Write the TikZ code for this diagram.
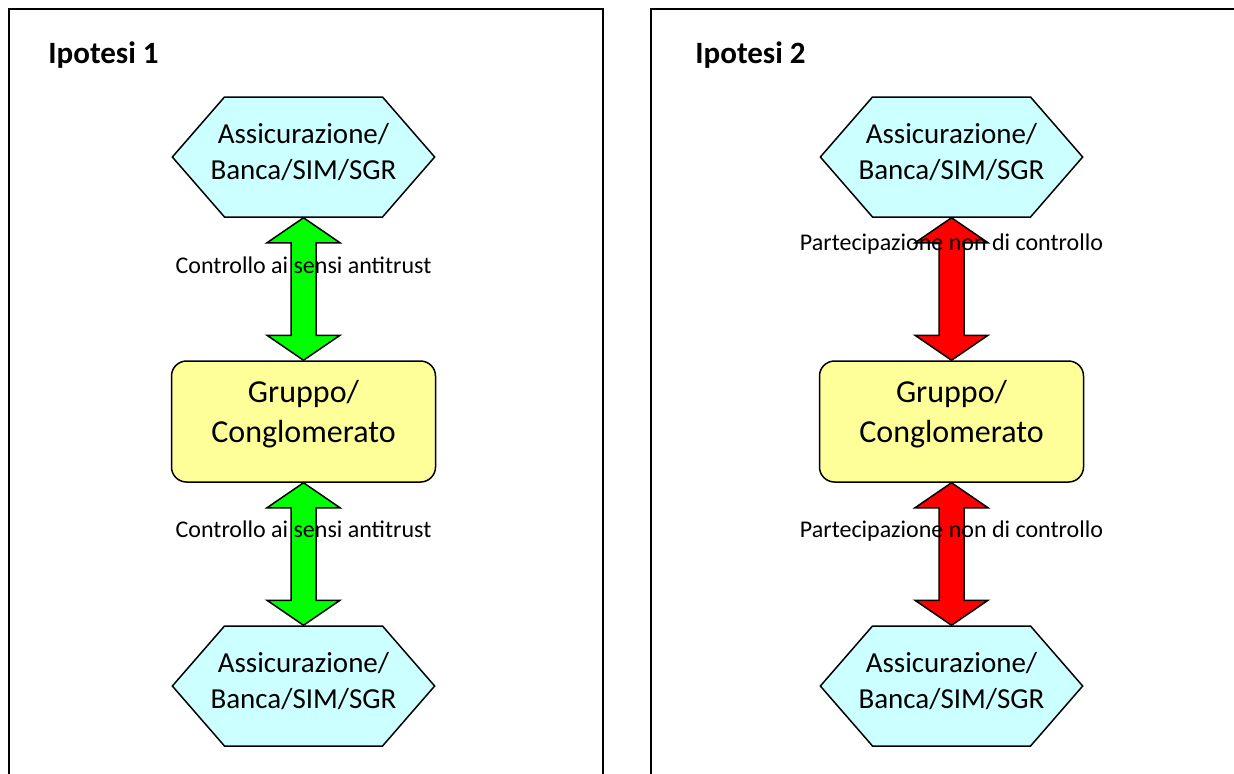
\documentclass[tikz,border=0pt]{standalone}
\usepackage{fontspec}
\setmainfont{Carlito}
\usepackage{tikz}
\usetikzlibrary{shapes.symbols, positioning, calc}
\definecolor{hexcyan}{HTML}{CCFFFF}
\definecolor{grpyellow}{HTML}{FFFF99}
\tikzstyle{hexa} = [signal, signal to=east and west, signal pointer angle=98, minimum height=60pt, inner xsep=-7pt, inner ysep=0pt, draw=black, line width=0.75pt, fill=hexcyan, align=center, font=\fontsize{14.5}{18}\selectfont, execute at end node={\rule[-6pt]{0pt}{6pt}}]
\tikzstyle{group} = [rectangle, rounded corners=7.5pt, minimum width=132pt, minimum height=60.5pt, draw=black, line width=0.75pt, fill=grpyellow, align=center, font=\fontsize{16}{20}\selectfont, execute at end node={\rule[-10pt]{0pt}{10pt}}]
\tikzstyle{rel} = [font=\fontsize{12}{14}\selectfont, inner sep=0pt, anchor=base]
\tikzstyle{title} = [font=\fontsize{15.5}{18}\selectfont\bfseries, inner sep=0pt, anchor=base west]
\tikzstyle{frame} = [line width=1pt]
\tikzstyle{fat} = [draw=black, line width=0.75pt, to path={(\tikztostart.south) -- ++(36.5,25) -- ++(-24,0) -- ($(\tikztotarget.north)+(12.5,-25)$) -- ++(24,0) -- (\tikztotarget.north) -- ++(-36.5,-25) -- ++(24,0) -- ($(\tikztostart.south)+(-12.5,25)$) -- ++(-24,0) -- cycle}]

\begin{document}
\begin{tikzpicture}[x=0.5pt, y=-0.5pt, node distance=132.25pt]
\useasboundingbox (0,0) rectangle (1234,773);

% two panels, open at the bottom
\draw[frame] (9,780) |- (603,9) -- (603,780);
\draw[frame] (651,780) |- (1240,9);

\node (tit1) [title] at (48,63) {Ipotesi 1};
\node (tit2) [title] at (695,63) {Ipotesi 2};

\node (bank1) [hexa] at (303.5,157) {Assicurazione/\\Banca/SIM/SGR};
\node (grp1) [group, below of=bank1] {Gruppo/\\Conglomerato};
\node (bank3) [hexa, below of=grp1] {Assicurazione/\\Banca/SIM/SGR};

\node (bank2) [hexa, right of=bank1, xshift=191.75pt] {Assicurazione/\\Banca/SIM/SGR};
\node (grp2) [group, below of=bank2] {Gruppo/\\Conglomerato};
\node (bank4) [hexa, below of=grp2] {Assicurazione/\\Banca/SIM/SGR};

\draw [fat, fill=green] (bank1) to (grp1);
\draw [fat, fill=green] (grp1) to (bank3);
\draw [fat, fill=red] (bank2) to (grp2);
\draw [fat, fill=red] (grp2) to (bank4);

\node (lab1) [rel] at ($(bank1.south)+(0,56)$) {Controllo ai sensi antitrust};
\node (lab3) [rel] at ($(grp1.south)+(0,55)$) {Controllo ai sensi antitrust};
\node (lab2) [rel] at ($(bank2.south)+(0,33)$) {Partecipazione non di controllo};
\node (lab4) [rel] at ($(grp2.south)+(0,55)$) {Partecipazione non di controllo};

\end{tikzpicture}
\end{document}
